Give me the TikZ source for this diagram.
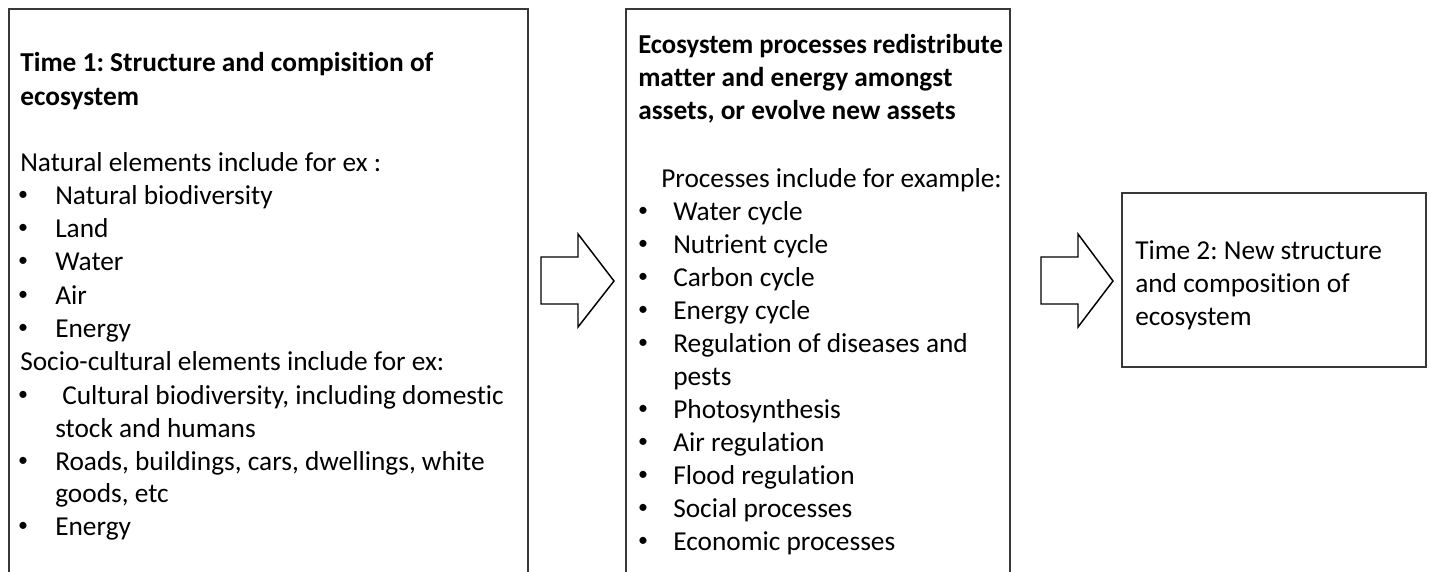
\documentclass[tikz,border=0pt]{standalone}
\usepackage{fontspec}
\setmainfont{Carlito}[Ligatures={NoCommon,NoContextual},Contextuals=NoAlternate]
\frenchspacing
\begin{document}
\begin{tikzpicture}[x=0.75pt,y=-0.75pt,
  boxline/.style={draw=black!78,line width=1.6pt},
  blockarrow/.style={draw=black,line width=1.1pt,fill=white,line join=miter},
  txt/.style={anchor=base west,inner sep=0pt,font=\fontsize{20.5}{25}\selectfont},
  htxt/.style={txt,font=\fontsize{20.5}{25}\selectfont\bfseries},
  bul/.style={anchor=center,inner sep=0pt,font=\fontsize{15}{17}\selectfont}]
\useasboundingbox (0,0) rectangle (1434,571);
\clip (0,0) rectangle (1434,571);
\fill[white] (0,0) rectangle (1434,571);
% boxes
\draw[boxline] (9,600) -- (9,9) -- (528,9) -- (528,600);
\draw[boxline] (626,600) -- (626,9) -- (1010,9) -- (1010,600);
\draw[boxline] (1122,193) rectangle (1426,367);
% block arrows
\draw[blockarrow] (541,257) -- (578,257) -- (578,234) -- (614,281) -- (578,327) -- (578,304) -- (541,304) -- cycle;
\draw[blockarrow] (1041,257) -- (1078,257) -- (1078,234) -- (1113,281) -- (1078,327) -- (1078,304) -- (1041,304) -- cycle;
% box 1 text
\node[htxt] (h1a) at (20,71) {Time 1: Structure and compisition of};
\node[htxt] (h1b) at (20,105) {ecosystem};
\node[txt] (n1) at (20,171) {Natural elements include for ex :};
\node[bul] (b1) at (23,196) {•}; \node[txt] (l1) at (55,204) {Natural biodiversity};
\node[bul] (b2) at (23,229) {•}; \node[txt] (l2) at (55,237) {Land};
\node[bul] (b3) at (23,262) {•}; \node[txt] (l3) at (55,270) {Water};
\node[bul] (b4) at (23,296) {•}; \node[txt] (l4) at (55,304) {Air};
\node[bul] (b5) at (23,329) {•}; \node[txt] (l5) at (55,337) {Energy};
\node[txt] (s1) at (20,370) {Socio-cultural elements include for ex:};
\node[bul] (b6) at (23,396) {•}; \node[txt] (l6) at (62,404) {Cultural biodiversity, including domestic};
\node[txt] (l6b) at (55,437) {stock and humans};
\node[bul] (b7) at (23,462) {•}; \node[txt] (l7) at (55,470) {Roads, buildings, cars, dwellings, white};
\node[txt] (l7b) at (55,502) {goods, etc};
\node[bul] (b8) at (23,527) {•}; \node[txt] (l8) at (55,535) {Energy};
% box 2 text
\node[htxt,xscale=0.975] (h2a) at (638,53) {Ecosystem processes redistribute};
\node[htxt] (h2b) at (638,86) {matter and energy amongst};
\node[htxt] (h2c) at (638,119) {assets, or evolve new assets};
\node[txt] (p0) at (661,187) {Processes include for example:};
\node[bul] (c1) at (643,212) {•}; \node[txt] (p1) at (673,220) {Water cycle};
\node[bul] (c2) at (643,245) {•}; \node[txt] (p2) at (673,253) {Nutrient cycle};
\node[bul] (c3) at (643,278) {•}; \node[txt] (p3) at (673,286) {Carbon cycle};
\node[bul] (c4) at (643,311) {•}; \node[txt] (p4) at (673,319) {Energy cycle};
\node[bul] (c5) at (643,344) {•}; \node[txt] (p5) at (673,352) {Regulation of diseases and};
\node[txt] (p5b) at (673,385) {pests};
\node[bul] (c6) at (643,410) {•}; \node[txt] (p6) at (673,418) {Photosynthesis};
\node[bul] (c7) at (643,443) {•}; \node[txt] (p7) at (673,451) {Air regulation};
\node[bul] (c8) at (643,476) {•}; \node[txt] (p8) at (673,484) {Flood regulation};
\node[bul] (c9) at (643,509) {•}; \node[txt] (p9) at (673,517) {Social processes};
\node[bul] (c10) at (643,542) {•}; \node[txt] (p10) at (673,550) {Economic processes};
% box 3 text
\node[txt] (t2a) at (1135,259) {Time 2: New structure};
\node[txt] (t2b) at (1135,292) {and composition of};
\node[txt] (t2c) at (1135,325) {ecosystem};
\end{tikzpicture}
\end{document}
